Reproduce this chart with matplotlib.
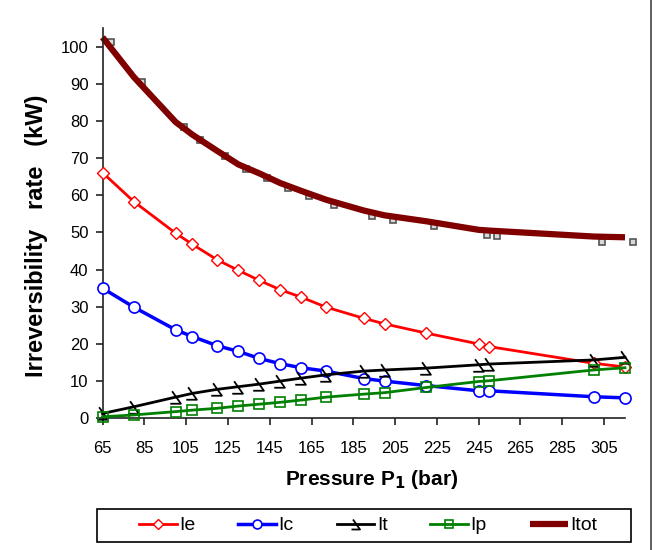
import numpy as np
import matplotlib
matplotlib.use('Agg')
import matplotlib.pyplot as plt
import matplotlib.transforms as mtransforms
import matplotlib.patches as mpatches
from matplotlib.path import Path

# pressure P1 (bar)
pressure = [65, 80, 100, 108, 120, 130, 140, 150, 160, 172, 190, 200, 220, 245, 250, 300, 315]

# irreversibility rates (kW)
Ie = [66.1, 58.3, 49.8, 46.8, 42.6, 39.8, 37.1, 34.6, 32.6, 29.9, 26.9, 25.4, 22.9, 20.0, 19.3, 14.8, 13.8]
Ic = [35.0, 29.9, 23.8, 22.0, 19.5, 18.0, 16.1, 14.7, 13.6, 12.7, 10.7, 10.0, 8.8, 7.4, 7.4, 5.8, 5.5]
It = [1.3, 3.1, 5.7, 6.7, 7.8, 8.5, 9.2, 10.0, 10.8, 11.7, 12.7, 13.0, 13.5, 14.4, 14.6, 15.7, 16.4]
Ip = [0.4, 0.9, 1.8, 2.2, 2.7, 3.3, 3.8, 4.3, 4.9, 5.7, 6.5, 6.9, 8.3, 9.9, 10.1, 13.0, 13.6]
Itot = [102.5, 91.8, 79.7, 76.3, 71.9, 68.3, 65.9, 63.3, 61.2, 58.8, 55.9, 54.6, 53.0, 50.7, 50.5, 48.9, 48.7]

plt.rcParams['font.family'] = ['Liberation Sans', 'DejaVu Sans']

fig = plt.figure(figsize=(6.6, 5.5), dpi=100, facecolor='w')
ax = fig.add_axes([102.5/660, 1-418.3/550, (625-102.5)/660, (418.3-28)/550])

# half triangle marker (Excel style) for "It"
half_tri = Path([(-0.35, 0.5), (0.35, -0.5), (-0.5, -0.5)],
                [Path.MOVETO, Path.LINETO, Path.LINETO])

# grey shadow squares under Itot
shadow = ax.transData + mtransforms.ScaledTranslation(8/100., -5/100., fig.dpi_scale_trans)
ax.plot(pressure, Itot, linestyle='none', marker='s', markersize=4,
        markeredgecolor='#555555', markerfacecolor='#d8d8d8', markeredgewidth=1.2,
        transform=shadow, zorder=1, clip_on=False)

ax.plot(pressure, Ie, color='red', linewidth=2, marker='D', markersize=6,
        markerfacecolor='white', markeredgecolor='red', markeredgewidth=1,
        label='Ie', zorder=3, clip_on=False)
ax.plot(pressure, Ic, color='blue', linewidth=2.5, marker='o', markersize=8,
        markerfacecolor='white', markeredgecolor='blue', markeredgewidth=1.2,
        label='Ic', zorder=3, clip_on=False)
ax.plot(pressure, It, color='black', linewidth=2, marker=half_tri, markersize=9,
        fillstyle='none', markeredgecolor='black', markeredgewidth=1.3,
        label='It', zorder=3, clip_on=False)
ax.plot(pressure, Ip, color='green', linewidth=2, marker='s', markersize=7.5,
        markerfacecolor='none', markeredgecolor='green', markeredgewidth=1.2,
        label='Ip', zorder=3, clip_on=False)
ax.plot(pressure, Itot, color='#800000', linewidth=4.5, label='Itot',
        zorder=2, clip_on=False, solid_capstyle='butt')

ax.set_xlim(65, 315)
ax.set_ylim(0, 105)
ax.set_xticks(np.arange(65, 306, 20))
ax.set_yticks(np.arange(0, 101, 10))
for s in ['top', 'right']:
    ax.spines[s].set_visible(False)
for s in ['left', 'bottom']:
    ax.spines[s].set_linewidth(1.2)
    ax.spines[s].set_color('#222222')
ax.tick_params(axis='both', direction='out', length=5, width=1.2, labelsize=12,
               color='#222222')
ax.tick_params(axis='x', pad=11)
ax.tick_params(axis='y', pad=5)

ax.set_xlabel(r'Pressure P$_\mathbf{1}$ (bar)', fontsize=15, fontweight='bold')
ax.set_ylabel('Irreversibility' + ' ' * 3 + 'rate' + ' ' * 3 + '(kW)',
              fontsize=17, fontweight='bold')
ax.xaxis.set_label_coords((372-102.5)/522.5, -(468-418.3)/390.3)
ax.yaxis.set_label_coords(-(102.5-48)/522.5, (418.3-235.5)/390.3)

leg = ax.legend(loc='center', bbox_to_anchor=(368/660, 1-525.5/550),
                bbox_transform=fig.transFigure, ncol=5, fontsize=14,
                frameon=False, handlelength=1.95, handletextpad=0.12,
                columnspacing=2.2, numpoints=1, markerscale=0.8)

# legend frame
fig.patches.append(mpatches.Rectangle((97/660, 1-542/550), (631-97)/660, 33/550, fill=False,
                                      edgecolor='black', linewidth=1.2,
                                      transform=fig.transFigure))
# chart area border
fig.patches.append(mpatches.Rectangle((-0.01, -0.01), 651/660+0.01, 1.02, fill=False,
                                      edgecolor='#444444', linewidth=1.2,
                                      transform=fig.transFigure))

fig.savefig('out.png', dpi=100)
